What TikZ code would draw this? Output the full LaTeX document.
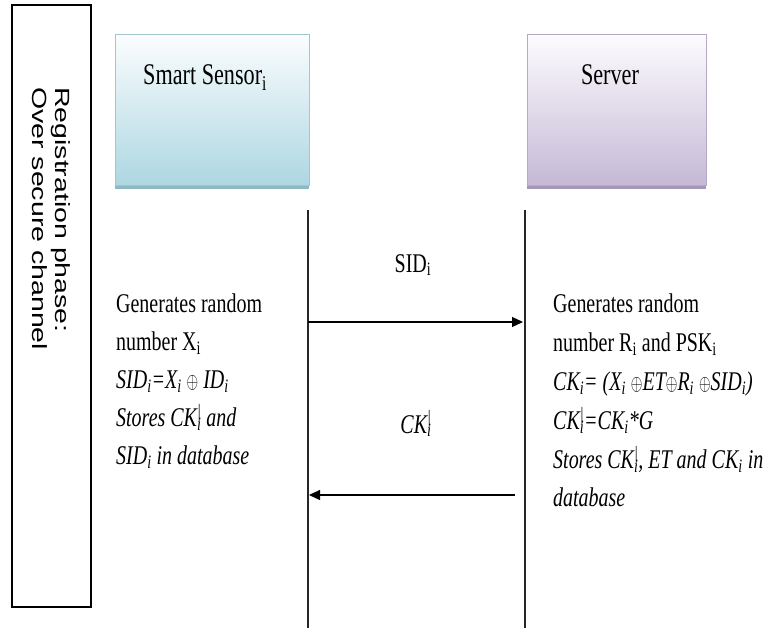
\documentclass[tikz,border=0pt]{standalone}
\usepackage{fontspec}
\usepackage{graphicx}
\setmainfont{Liberation Serif}[FakeStretch=0.74]
\newfontfamily\phasefont{Liberation Sans}
\usetikzlibrary{arrows.meta}

\definecolor{sensortop}{HTML}{FBFDFE}
\definecolor{sensorbot}{HTML}{ADD7E2}
\definecolor{sensoredge}{HTML}{A3C6D0}
\definecolor{sensorshade}{HTML}{8FB8C5}
\definecolor{servertop}{HTML}{FDFCFE}
\definecolor{serverbot}{HTML}{C5B9D6}
\definecolor{serveredge}{HTML}{B4A9C5}
\definecolor{servershade}{HTML}{A497BA}

% exclusive-or sign, narrowed to sit with the condensed serif
\newcommand{\xo}{\scalebox{0.6}[0.9]{$\oplus$}}
% key with a bar mark above and index below
\newcommand{\ckbar}{CK\rlap{\textsuperscript{|}}\textsubscript{i}}
\newcommand{\sub}[1]{\textsubscript{#1}}

\begin{document}
\begin{tikzpicture}[x=1pt,y=-1pt,
  actorbox/.style={rectangle, draw, line width=0.6pt, inner sep=0pt},
  title/.style={font=\fontsize{30}{34}\selectfont, inner sep=0pt, anchor=base west},
  stepnote/.style={align=left, inner sep=0pt, anchor=north west},
  lifeline/.style={line width=1.1pt, draw=black!85},
  msg/.style={line width=1.1pt, -{Triangle[length=11pt,width=10pt]}},
  msglabel/.style={inner sep=0pt, anchor=base, font=\fontsize{27}{32}\selectfont}]

\useasboundingbox (0,0) rectangle (778,628);

% phase frame on the left
\node[draw, line width=1.1pt, minimum width=79pt, minimum height=602pt, inner sep=0pt]
  (frame) at (51.5,306) {};
\node[rotate=-90, anchor=north west, inner sep=0pt] (phase) at (71,87)
  {\scalebox{1}[0.72]{\phasefont\fontsize{28.5}{31}\selectfont
   \begin{tabular}{@{}l@{}}Registration phase:\\Over secure channel\end{tabular}}};

% participants
\fill[sensorshade] (115,183) rectangle (309,189);
\node[actorbox, draw=sensoredge, top color=sensortop, bottom color=sensorbot,
  minimum width=194pt, minimum height=151pt] (sensor) at (212,109.5) {};
\node[title] (sensorname) at (143,85) {Smart Sensor\sub{i}};

\fill[servershade] (527,183) rectangle (706,189);
\node[actorbox, draw=serveredge, top color=servertop, bottom color=serverbot,
  minimum width=179pt, minimum height=151pt] (server) at (616.5,109.5) {};
\node[title, anchor=base] (servername) at (610,85) {Server};

% lifelines
\coordinate (ltop) at (308,210);
\coordinate (lbot) at (308,628);
\coordinate (rtop) at (525,210);
\coordinate (rbot) at (525,628);
\draw[lifeline] (ltop) -- (lbot);
\draw[lifeline] (rtop) -- (rbot);

% messages
\coordinate (m1s) at (308,322);
\coordinate (m1e) at (523,322);
\coordinate (m2s) at (515,495);
\coordinate (m2e) at (309,495);
\draw[msg] (m1s) -- (m1e);
\draw[msg] (m2s) -- (m2e);
\node[msglabel] (m1lab) at (413,272) {SID\sub{i}};
\node[msglabel] (m2lab) at (416,433) {\itshape \ckbar};

% sensor side computations
\node[stepnote, font=\fontsize{27}{38}\selectfont] (sensorsteps) at (116,294)
  {Generates random\\
   number X\sub{i}\\
   \itshape SID\sub{i}=X\sub{i} \xo\ ID\sub{i}\\
   \itshape Stores \ckbar\ and\\
   \itshape SID\sub{i} in database};

% server side computations
\node[stepnote, font=\fontsize{27}{38.8}\selectfont] (serversteps) at (553,294)
  {Generates random\\
   number R\sub{i} and PSK\sub{i}\\
   \itshape CK\sub{i}= (X\sub{i} \xo ET\xo R\sub{i} \xo SID\sub{i})\\
   \itshape \ckbar=CK\sub{i}*G\\
   \itshape Stores \ckbar, ET and CK\sub{i} in\\
   \itshape database};
\end{tikzpicture}
\end{document}
